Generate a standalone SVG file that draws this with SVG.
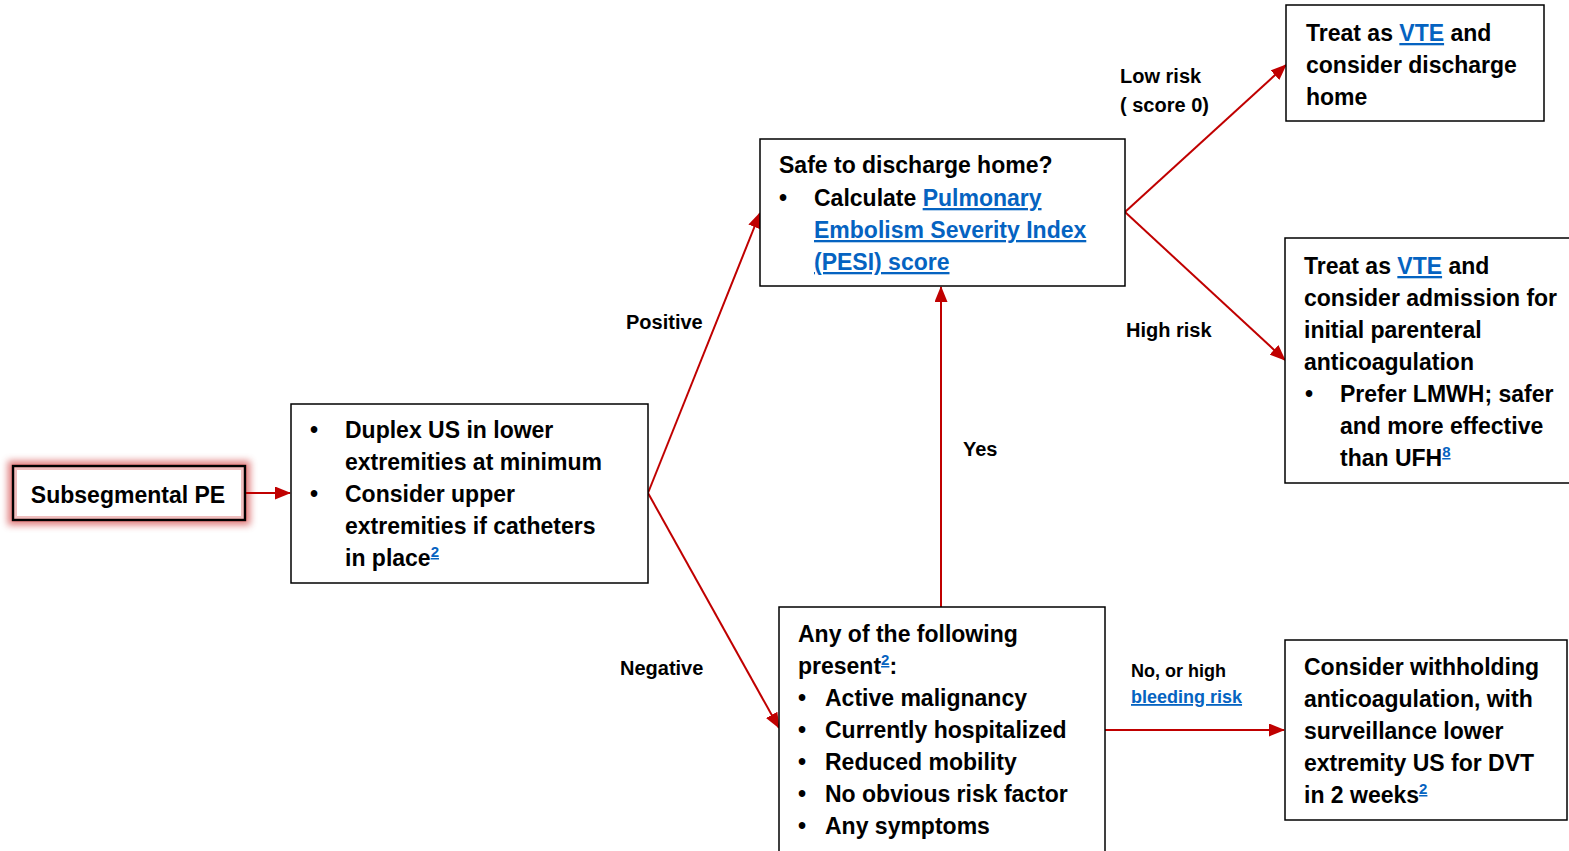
<svg xmlns="http://www.w3.org/2000/svg" width="1569" height="851" viewBox="0 0 1569 851">
<style>
.t { font-family: "Liberation Sans", Arial, sans-serif; font-weight: bold; font-size: 23px; fill: #000; }
.l { font-family: "Liberation Sans", Arial, sans-serif; font-weight: bold; font-size: 20px; fill: #000; }
.s { font-family: "Liberation Sans", Arial, sans-serif; font-weight: bold; font-size: 18px; fill: #000; }
.lk { fill: #0563C1; text-decoration: underline; }
.sup { font-size: 15px; }
.box { fill: #fff; stroke: #000; stroke-width: 1.5; }
.c { stroke: #C00000; stroke-width: 2; fill: none; marker-end: url(#ah); }
</style>
<defs>
<marker id="ah" markerUnits="userSpaceOnUse" markerWidth="16" markerHeight="13" refX="15" refY="6.5" orient="auto">
<path d="M0,0 L16,6.5 L0,13 z" fill="#C00000"/>
</marker>
<filter id="glow" x="-20%" y="-60%" width="140%" height="220%">
<feMorphology in="SourceAlpha" operator="dilate" radius="4" result="d"/>
<feGaussianBlur in="d" stdDeviation="3.5" result="b"/>
<feFlood flood-color="#C00000" flood-opacity="0.5"/>
<feComposite in2="b" operator="in" result="g"/>
<feMerge><feMergeNode in="g"/><feMergeNode in="SourceGraphic"/></feMerge>
</filter>
</defs>
<rect width="1569" height="851" fill="#fff"/>

<g id="connectors">
<line class="c" x1="245" y1="493" x2="290" y2="493"/>
<line class="c" x1="648" y1="493" x2="760" y2="213"/>
<line class="c" x1="648" y1="493" x2="779" y2="728"/>
<line class="c" x1="941" y1="607" x2="941" y2="287"/>
<line class="c" x1="1125" y1="212" x2="1286" y2="65"/>
<line class="c" x1="1125" y1="212" x2="1285" y2="360"/>
<line class="c" x1="1105" y1="730" x2="1284" y2="730"/>
<text class="l" x="626" y="329">Positive</text>
<text class="l" x="620" y="675">Negative</text>
<text class="l" x="963" y="456">Yes</text>
<text class="l" x="1120" y="83">Low risk</text>
<text class="l" x="1120" y="112">( score 0)</text>
<text class="l" x="1126" y="337">High risk</text>
<text class="s" x="1131" y="677">No, or high</text>
<text class="s" x="1131" y="703"><tspan class="lk">bleeding risk</tspan></text>
</g>

<g id="subsegmental">
<rect x="13" y="466" width="232" height="54" fill="#fff" stroke="#000" stroke-width="2.5" filter="url(#glow)"/>
<rect x="15.5" y="468.5" width="227" height="49" fill="none" stroke="#C00000" stroke-opacity="0.25" stroke-width="3"/>
<text class="t" x="128" y="503" text-anchor="middle">Subsegmental PE</text>
</g>

<g id="duplex">
<rect class="box" x="291" y="404" width="357" height="179"/>
<text class="t" x="310" y="438">•</text>
<text class="t" x="345" y="438">Duplex US in lower</text>
<text class="t" x="345" y="470">extremities at minimum</text>
<text class="t" x="310" y="502">•</text>
<text class="t" x="345" y="502">Consider upper</text>
<text class="t" x="345" y="534">extremities if catheters</text>
<text class="t" x="345" y="566">in place<tspan class="lk sup" dy="-9">2</tspan></text>
</g>

<g id="safe">
<rect class="box" x="760" y="139" width="365" height="147"/>
<text class="t" x="779" y="173">Safe to discharge home?</text>
<text class="t" x="779" y="206">•</text>
<text class="t" x="814" y="206">Calculate <tspan class="lk">Pulmonary</tspan></text>
<text class="t" x="814" y="238"><tspan class="lk">Embolism Severity Index</tspan></text>
<text class="t" x="814" y="270"><tspan class="lk">(PESI) score</tspan></text>
</g>

<g id="treat-home">
<rect class="box" x="1286" y="5" width="258" height="116"/>
<text class="t" x="1306" y="41">Treat as <tspan class="lk">VTE</tspan> and</text>
<text class="t" x="1306" y="73">consider discharge</text>
<text class="t" x="1306" y="105">home</text>
</g>

<g id="treat-admit">
<rect class="box" x="1285" y="238" width="290" height="245"/>
<text class="t" x="1304" y="274">Treat as <tspan class="lk">VTE</tspan> and</text>
<text class="t" x="1304" y="306">consider admission for</text>
<text class="t" x="1304" y="338">initial parenteral</text>
<text class="t" x="1304" y="370">anticoagulation</text>
<text class="t" x="1305" y="402">•</text>
<text class="t" x="1340" y="402">Prefer LMWH; safer</text>
<text class="t" x="1340" y="434">and more effective</text>
<text class="t" x="1340" y="466">than UFH<tspan class="lk sup" dy="-9">8</tspan></text>
</g>

<g id="any-following">
<rect class="box" x="779" y="607" width="326" height="260"/>
<text class="t" x="798" y="642">Any of the following</text>
<text class="t" x="798" y="674">present<tspan class="lk sup" dy="-9">2</tspan><tspan dy="9">:</tspan></text>
<text class="t" x="798" y="706">•</text>
<text class="t" x="825" y="706">Active malignancy</text>
<text class="t" x="798" y="738">•</text>
<text class="t" x="825" y="738">Currently hospitalized</text>
<text class="t" x="798" y="770">•</text>
<text class="t" x="825" y="770">Reduced mobility</text>
<text class="t" x="798" y="802">•</text>
<text class="t" x="825" y="802">No obvious risk factor</text>
<text class="t" x="798" y="834">•</text>
<text class="t" x="825" y="834">Any symptoms</text>
</g>

<g id="withhold">
<rect class="box" x="1285" y="640" width="282" height="180"/>
<text class="t" x="1304" y="675">Consider withholding</text>
<text class="t" x="1304" y="707">anticoagulation, with</text>
<text class="t" x="1304" y="739">surveillance lower</text>
<text class="t" x="1304" y="771">extremity US for DVT</text>
<text class="t" x="1304" y="803">in 2 weeks<tspan class="lk sup" dy="-9">2</tspan></text>
</g>
</svg>
